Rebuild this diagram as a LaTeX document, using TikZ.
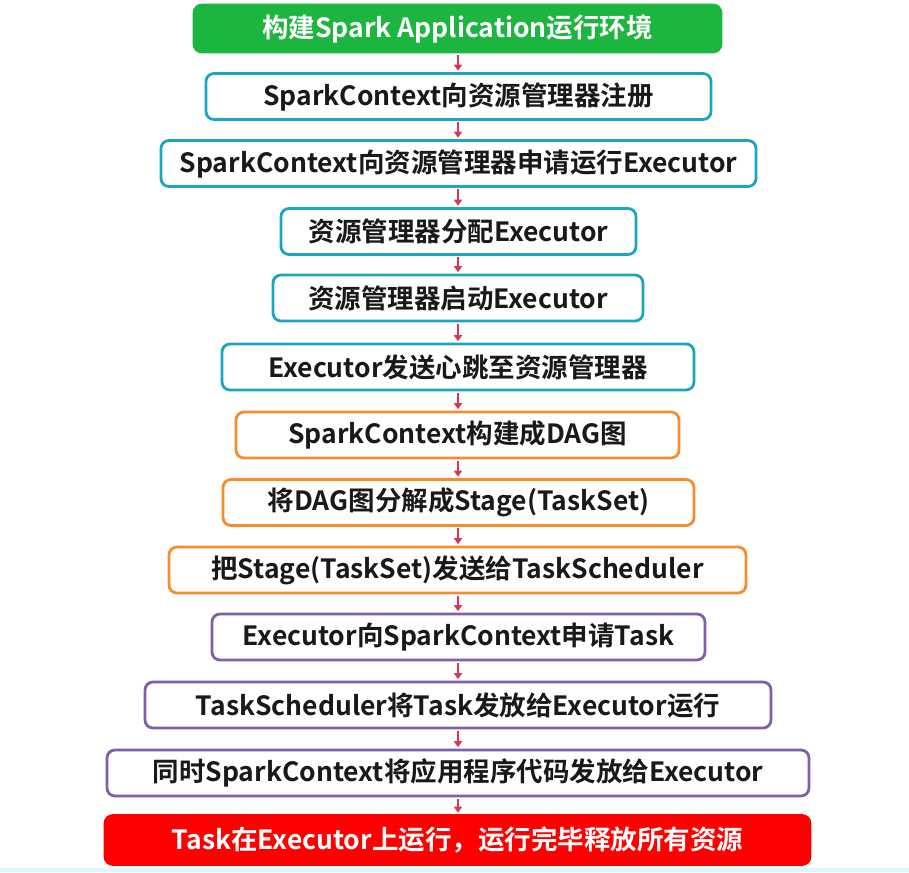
\documentclass[tikz,border=0pt]{standalone}
\usepackage{fontspec}
\setmainfont{Noto Sans CJK SC}[BoldFont={Noto Sans CJK SC Bold}]
\usetikzlibrary{arrows.meta}
\definecolor{gfill}{RGB}{27,181,64}
\definecolor{tealc}{RGB}{28,165,195}
\definecolor{orangec}{RGB}{245,140,45}
\definecolor{purplec}{RGB}{125,95,170}
\definecolor{redc}{RGB}{255,0,0}
\definecolor{arrowc}{RGB}{215,55,85}
\definecolor{txt}{RGB}{25,25,25}
\tikzset{
  box/.style={rounded corners=8pt, line width=2.8pt, fill=white, text=txt,
    font=\fontsize{26.5}{30}\selectfont\bfseries, inner sep=0pt, anchor=center},
  tealbox/.style={box, draw=tealc, minimum height=46pt},
  orangebox/.style={box, draw=orangec, minimum height=46pt},
  purplebox/.style={box, draw=purplec, minimum height=46pt},
  greenbox/.style={box, draw=gfill, fill=gfill, text=white, minimum height=47pt},
  redbox/.style={box, draw=redc, fill=redc, text=white, minimum height=49pt},
  flow/.style={draw=arrowc, line width=1.6pt, -{Triangle[length=6pt,width=8pt]}}
}
\begin{document}
\begin{tikzpicture}[x=1pt,y=-1pt]
\useasboundingbox[fill=white] (0,0) rectangle (909,872);
\fill[cyan!12] (0,868) rectangle (909,872);
\node[greenbox, minimum width=527pt] (n1) at (457.5,28.5) {构建Spark Application运行环境};
\node[tealbox, minimum width=505pt] (n2) at (458.5,96.5) {SparkContext向资源管理器注册};
\node[tealbox, minimum width=595pt] (n3) at (458.5,163.5) {SparkContext向资源管理器申请运行Executor};
\node[tealbox, minimum width=355pt] (n4) at (458.5,231.5) {资源管理器分配Executor};
\node[tealbox, minimum width=370pt] (n5) at (458,298) {资源管理器启动Executor};
\node[tealbox, minimum width=472pt] (n6) at (458,367) {Executor发送心跳至资源管理器};
\node[orangebox, minimum width=443pt] (n7) at (457.5,435) {SparkContext构建成DAG图};
\node[orangebox, minimum width=471pt] (n8) at (458.5,502.5) {将DAG图分解成Stage(TaskSet)};
\node[orangebox, minimum width=577pt] (n9) at (457.5,570) {把Stage(TaskSet)发送给TaskScheduler};
\node[purplebox, minimum width=493pt] (n10) at (458.5,637) {Executor向SparkContext申请Task};
\node[purplebox, minimum width=626pt] (n11) at (458,705) {TaskScheduler将Task发放给Executor运行};
\node[purplebox, minimum width=702pt] (n12) at (458,773) {同时SparkContext将应用程序代码发放给Executor};
\node[redbox, minimum width=705pt] (n13) at (457.5,840) {Task在Executor上运行，运行完毕释放所有资源};
\foreach \a/\b in {n1/n2,n2/n3,n3/n4,n4/n5,n5/n6,n6/n7,n7/n8,n8/n9,n9/n10,n10/n11,n11/n12,n12/n13}
  \draw[flow] ([yshift=-1.4pt]\a.south -| 458,0) -- ([yshift=1.4pt]\b.north -| 458,0);
\end{tikzpicture}
\end{document}
